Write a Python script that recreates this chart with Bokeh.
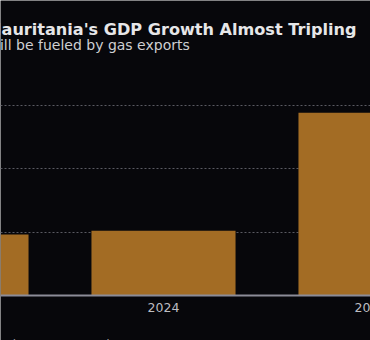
from bokeh.plotting import figure
from bokeh.models import Range1d, FixedTicker, Grid, Label, Span
from bokeh.core.properties import value
from bokeh.embed import file_html
from bokeh.resources import INLINE

years = [2023, 2024, 2025]
growth = [4.8, 5.1, 14.4]
grid_values = [5, 10, 15]
tick_years = [2023, 2024, 2025]
tick_labels = [str(y) for y in tick_years]

TITLE = "Mauritania's GDP Growth Almost Tripling"
SUBTITLE = "will be fueled by gas exports"
SOURCE = "International Monetary Fund"

BG = "#07070b"
BAR = "#a36c24"

W, H = 370, 340
BASE_PX = 295          # baseline distance from top (px)
UNIT_PX = 12.69        # px per percentage point
YEAR_PX = 207.0        # px per year
X_END = 2025.0

x0 = X_END - W / YEAR_PX
y_start = -(H - BASE_PX) / UNIT_PX
y_end = BASE_PX / UNIT_PX

p = figure(width=W, height=H, output_backend="svg", toolbar_location=None,
           x_range=Range1d(x0, X_END), y_range=Range1d(y_start, y_end),
           x_axis_location=None, y_axis_location=None,
           min_border=0, min_border_left=0, min_border_right=0,
           min_border_top=0, min_border_bottom=0)
p.background_fill_color = BG
p.border_fill_color = BG
p.outline_line_color = None
for g in list(p.xgrid) + list(p.ygrid):
    g.visible = False

grid = Grid(dimension=1, ticker=FixedTicker(ticks=grid_values),
            grid_line_color="#5a5a62", grid_line_dash="2 2", grid_line_width=1)
p.add_layout(grid)

p.add_layout(Span(location=0, dimension="width", line_color="#8c8c98", line_width=2))

p.vbar(x=years, top=growth, width=0.696, color=BAR, line_color=None)

p.text(x=tick_years, y=[-(307 - BASE_PX) / UNIT_PX] * len(tick_years), text=tick_labels,
       text_align="center", text_baseline="alphabetic", text_color="#bdbdc2",
       text_font=value("DejaVu Sans"), text_font_size="12.5px")

p.add_layout(Label(x=-15, y=H - 29, x_units="screen", y_units="screen", text=TITLE,
                   text_align="left", text_baseline="alphabetic", text_color="#e6e6e8",
                   text_font="DejaVu Sans", text_font_size="16.1px", text_font_style="bold"))
p.add_layout(Label(x=-12, y=H - 44, x_units="screen", y_units="screen", text=SUBTITLE,
                   text_align="left", text_baseline="alphabetic", text_color="#cfcfd2",
                   text_font="DejaVu Sans", text_font_size="14px"))
p.add_layout(Label(x=-61, y=H - 344, x_units="screen", y_units="screen", text=SOURCE,
                   text_align="left", text_baseline="alphabetic", text_color="#9a9aa0",
                   text_font="DejaVu Sans", text_font_size="12px"))

open("out.html", "w").write(file_html(p, INLINE))
